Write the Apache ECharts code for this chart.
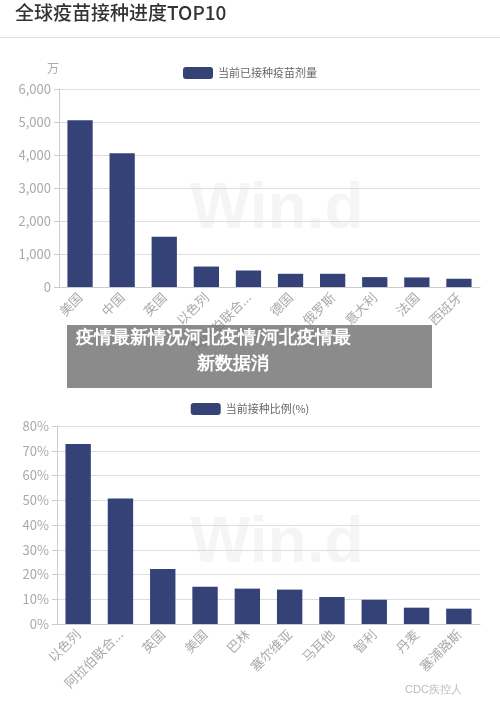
<!DOCTYPE html>
<html><head><meta charset="utf-8">
<script src="https://cdn.jsdelivr.net/npm/echarts@6/dist/echarts.min.js"></script>
<style>html,body{margin:0;background:#fff}#c{width:500px;height:714px}</style>
</head><body><div id="c"></div>
<script>
const doseCountries = ['美国', '中国', '英国', '以色列', '阿拉伯联合酋长国', '德国', '俄罗斯', '意大利', '法国', '西班牙'];
const doseValues = [5050, 4050, 1520, 620, 500, 400, 400, 300, 290, 250];
const rateCountries = ['以色列', '阿拉伯联合酋长国', '英国', '美国', '巴林', '塞尔维亚', '马耳他', '智利', '丹麦', '塞浦路斯'];
const rateValues = [72.7, 50.7, 22.2, 15.1, 14.3, 13.9, 10.9, 9.8, 6.6, 6.2];

const barColor = '#344278';
const labelColor = '#aaa';
const fontFamily = '"Noto Sans CJK SC", "Noto Sans", sans-serif';

function catLabel(v) {
    return v.length > 5 ? v.slice(0, 5) + '...' : v;
}

const chart = echarts.init(document.getElementById('c'));
chart.setOption({
    textStyle: { fontFamily: fontFamily },
    animation: false,
    legend: [
        { data: ['当前已接种疫苗剂量'], top: 62, left: 'center', itemWidth: 30, itemHeight: 12, textStyle: { color: '#666', fontSize: 11 } },
        { data: ['当前接种比例(%)'], top: 398, left: 'center', itemWidth: 30, itemHeight: 12, textStyle: { color: '#666', fontSize: 11 } }
    ],
    grid: [
        { left: 59, right: 20, top: 89, height: 198 },
        { left: 57, right: 20, top: 426, height: 198 }
    ],
    xAxis: [
        { type: 'category', gridIndex: 0, data: doseCountries, axisLine: { lineStyle: { color: '#ccc' } }, axisTick: { alignWithLabel: true, lineStyle: { color: '#ccc' } }, axisLabel: { rotate: 45, interval: 0, color: labelColor, fontSize: 13, formatter: catLabel } },
        { type: 'category', gridIndex: 1, data: rateCountries, axisLine: { lineStyle: { color: '#ccc' } }, axisTick: { alignWithLabel: true, lineStyle: { color: '#ccc' } }, axisLabel: { rotate: 45, interval: 0, color: labelColor, fontSize: 13, formatter: catLabel } }
    ],
    yAxis: [
        { type: 'value', gridIndex: 0, min: 0, max: 6000, interval: 1000, name: '万', nameTextStyle: { color: labelColor, fontSize: 12, padding: [0, 0, 0, -12] }, axisLine: { show: true, lineStyle: { color: '#ccc' } }, axisTick: { show: true, lineStyle: { color: '#ccc' } }, splitLine: { lineStyle: { color: '#ddd' } }, axisLabel: { color: labelColor, fontSize: 13, formatter: v => v.toLocaleString('en') } },
        { type: 'value', gridIndex: 1, min: 0, max: 80, interval: 10, axisLine: { show: true, lineStyle: { color: '#ccc' } }, axisTick: { show: true, lineStyle: { color: '#ccc' } }, splitLine: { lineStyle: { color: '#ddd' } }, axisLabel: { color: labelColor, fontSize: 13, formatter: '{value}%' } }
    ],
    series: [
        { name: '当前已接种疫苗剂量', type: 'bar', xAxisIndex: 0, yAxisIndex: 0, data: doseValues, barWidth: '60%', itemStyle: { color: barColor } },
        { name: '当前接种比例(%)', type: 'bar', xAxisIndex: 1, yAxisIndex: 1, data: rateValues, barWidth: '60%', itemStyle: { color: barColor } }
    ],
    graphic: [
        { type: 'text', left: 15, top: 3, style: { text: '全球疫苗接种进度TOP10', fontSize: 19, fontWeight: 500, fill: '#333', fontFamily: fontFamily } },
        { type: 'rect', shape: { x: 0, y: 37, width: 500, height: 1 }, style: { fill: '#ddd' } },
        { type: 'text', left: 190, top: 178, z: -1, style: { text: 'Win.d', fontSize: 64, fontWeight: 'bold', fill: 'rgba(0,0,0,0.04)' } },
        { type: 'text', left: 190, top: 512, z: -1, style: { text: 'Win.d', fontSize: 64, fontWeight: 'bold', fill: 'rgba(0,0,0,0.04)' } },
        { type: 'rect', z: 100, shape: { x: 67, y: 325, width: 365, height: 63 }, style: { fill: 'rgba(110,110,110,0.8)' } },
        { type: 'text', z: 101, left: 76, top: 329, style: { text: '疫情最新情况河北疫情/河北疫情最', fontSize: 18, fontWeight: 'bold', fill: '#fff' } },
        { type: 'text', z: 101, left: 197, top: 355, style: { text: '新数据消', fontSize: 18, fontWeight: 'bold', fill: '#fff' } },
        { type: 'text', left: 405, top: 684, style: { text: 'CDC疾控人', fontSize: 11, fill: '#bbb' } }
    ]
});
</script>
</body></html>
